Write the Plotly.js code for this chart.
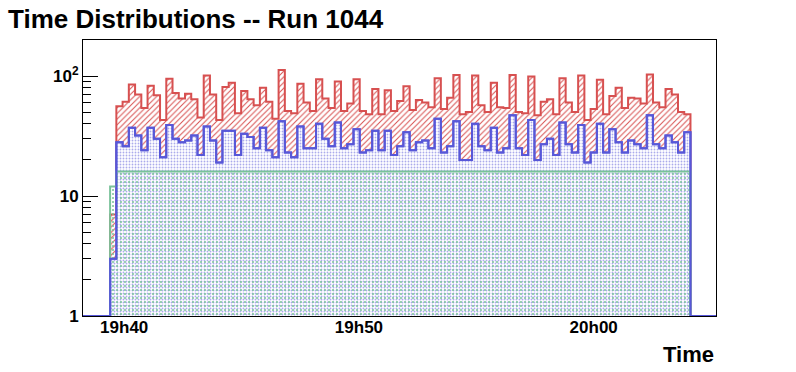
<!DOCTYPE html>
<html>
<head>
<meta charset="utf-8">
<script src="https://cdn.plot.ly/plotly-3.0.1.min.js"></script>
<style>
  html, body { margin: 0; padding: 0; background: #ffffff; }
  #chart { width: 796px; height: 372px; }
</style>
</head>
<body>
<div id="chart"></div>
<script>
// ---- Data ----
// Histogram binning: first bin low edge and bin width (time axis)
const binStartTime = '2024-01-01 19:39:24';
const binWidthSec = 15.95;

// Red histogram contents (93 bins)
const redCounts = [
  7, 56, 61, 85, 70, 54, 83, 69, 43, 95,
  72, 65, 71, 64, 45, 101, 70, 43, 81, 88,
  49, 75, 64, 57, 80, 61, 44, 112, 51, 49,
  86, 60, 51, 94, 65, 54, 90, 51, 59, 94,
  51, 48, 78, 48, 76, 51, 62, 82, 52, 63,
  60, 55, 96, 53, 66, 102, 48, 50, 101, 57,
  50, 88, 55, 54, 102, 50, 49, 99, 47, 61,
  64, 48, 96, 60, 50, 101, 43, 53, 93, 48,
  68, 80, 54, 66, 65, 59, 103, 60, 55, 78,
  70, 50, 48
];

// Blue histogram contents (93 bins)
const blueCounts = [
  3, 28, 26, 37, 32, 24, 37, 30, 21, 39,
  30, 28, 29, 32, 22, 38, 29, 19, 35, 35,
  22, 33, 31, 25, 37, 24, 21, 42, 23, 21,
  38, 25, 25, 40, 30, 26, 41, 25, 27, 36,
  23, 24, 35, 24, 35, 22, 26, 34, 24, 28,
  29, 25, 44, 23, 26, 42, 20, 20, 40, 26,
  24, 37, 23, 25, 47, 25, 22, 43, 20, 27,
  30, 22, 41, 27, 23, 39, 19, 23, 40, 23,
  36, 28, 23, 29, 27, 25, 47, 27, 25, 32,
  28, 23, 34
];

// Green histogram contents (93 bins)
const greenCounts = [
  12, 16, 16, 16, 16, 16, 16, 16, 16, 16,
  16, 16, 16, 16, 16, 16, 16, 16, 16, 16,
  16, 16, 16, 16, 16, 16, 16, 16, 16, 16,
  16, 16, 16, 16, 16, 16, 16, 16, 16, 16,
  16, 16, 16, 16, 16, 16, 16, 16, 16, 16,
  16, 16, 16, 16, 16, 16, 16, 16, 16, 16,
  16, 16, 16, 16, 16, 16, 16, 16, 16, 16,
  16, 16, 16, 16, 16, 16, 16, 16, 16, 16,
  16, 16, 16, 16, 16, 16, 16, 16, 16, 16,
  16, 16, 16
];

// Axis settings / labels
const xRange = ['2024-01-01 19:38:14.7', '2024-01-01 20:05:12.6'];
const xTick0 = '2024-01-01 19:40:00';
const yTickVals = [1, 10, 100];
const yTickText = ['1', '10', '10<sup>2</sup>'];
const titleText = 'Time Distributions -- Run 1044';
const xTitleText = 'Time';

// ---- Build step outlines (ROOT-style histogram drawing) ----
function toMs(s) {
  const [d, t] = s.split(' ');
  const [Y, M, D] = d.split('-').map(Number);
  const [h, m, sec] = t.split(':').map(Number);
  return Date.UTC(Y, M - 1, D, h, m, 0) + sec * 1000;
}
const FLOOR = 1; // empty bins are drawn on the frame bottom (log axis minimum)
const startMs = toMs(binStartTime);
function edge(i) { return startMs + i * binWidthSec * 1000; }
function stepXY(vals) {
  const x = [toMs(xRange[0])], y = [FLOOR];
  vals.forEach((v, i) => { x.push(edge(i)); y.push(v); });
  x.push(edge(vals.length)); y.push(FLOOR);
  x.push(toMs(xRange[1])); y.push(FLOOR);
  return { x, y };
}

const RED = '#d75050';
const BLUE = '#5757d8';
const GREEN = '#79c29a';

const r = stepXY(redCounts), b = stepXY(blueCounts), g = stepXY(greenCounts);

const traces = [
  { x: r.x, y: r.y, type: 'scatter', mode: 'lines',
    line: { shape: 'hv', color: RED, width: 2 },
    fill: 'tozeroy', fillcolor: 'rgba(255,255,255,0)',
    fillpattern: { shape: '/', fgcolor: RED, bgcolor: 'rgba(255,255,255,0)', size: 4, solidity: 0.25, fillmode: 'replace' },
    hoverinfo: 'skip' },
  { x: b.x, y: b.y, type: 'scatter', mode: 'lines',
    line: { shape: 'hv', color: BLUE, width: 2 },
    fill: 'tozeroy', fillcolor: '#ffffff',
    fillpattern: { shape: '.', fgcolor: BLUE, size: 3, solidity: 0.3, fillmode: 'overlay' },
    hoverinfo: 'skip' },
  { x: g.x, y: g.y, type: 'scatter', mode: 'lines',
    line: { shape: 'hv', color: GREEN, width: 2 },
    fill: 'tozeroy', fillcolor: 'rgba(255,255,255,0)',
    fillpattern: { shape: '.', fgcolor: GREEN, bgcolor: 'rgba(255,255,255,0)', size: 4, solidity: 0.2, fillmode: 'replace' },
    hoverinfo: 'skip' },
  { x: b.x, y: b.y, type: 'scatter', mode: 'lines',
    line: { shape: 'hv', color: BLUE, width: 2 },
    hoverinfo: 'skip' }
];

const FONT = 'Liberation Sans, Arial, Helvetica, sans-serif';

const layout = {
  width: 796, height: 372,
  margin: { l: 83, r: 80, t: 40, b: 56, pad: 0 },
  paper_bgcolor: '#ffffff', plot_bgcolor: '#ffffff',
  showlegend: false,
  font: { family: FONT, color: '#000000', size: 17, weight: 'bold' },
  title: {
    text: titleText, xref: 'container', yref: 'container',
    x: 8 / 796, xanchor: 'left', y: 1 - 19 / 372, yanchor: 'middle',
    font: { family: FONT, size: 26, weight: 'bold', color: '#000000' }
  },
  xaxis: {
    type: 'date', range: xRange,
    tick0: xTick0, dtick: 600000, tickformat: '%Hh%M',
    ticks: 'inside', ticklen: 11, tickwidth: 1, tickcolor: '#000000',
    minor: { tick0: xTick0, dtick: 120000, ticks: 'inside', ticklen: 5, tickwidth: 1, tickcolor: '#000000', showgrid: false },
    showgrid: false, zeroline: false,
    showline: true, linecolor: '#000000', linewidth: 1, mirror: true,
    tickfont: { family: FONT, size: 17, weight: 'bold', color: '#000000' },
    ticklabelstandoff: -4,
    layer: 'below traces'
  },
  yaxis: {
    type: 'log', range: [0, 2.3],
    tickmode: 'array', tickvals: yTickVals, ticktext: yTickText,
    ticks: 'inside', ticklen: 15, tickwidth: 1, tickcolor: '#000000',
    minor: { dtick: 'D1', ticks: 'inside', ticklen: 8, tickwidth: 1, tickcolor: '#000000', showgrid: false },
    showgrid: false, zeroline: false,
    showline: true, linecolor: '#000000', linewidth: 1, mirror: true,
    tickfont: { family: FONT, size: 17, weight: 'bold', color: '#000000' },
    ticklabelstandoff: 0,
    layer: 'below traces'
  },
  annotations: [{
    text: xTitleText, xref: 'paper', yref: 'paper',
    x: 1, xanchor: 'right', y: -(354 - 316) / 276, yanchor: 'middle',
    showarrow: false,
    font: { family: FONT, size: 22, weight: 'bold', color: '#000000' }
  }]
};

Plotly.newPlot('chart', traces, layout, { staticPlot: true, displayModeBar: false });
</script>
</body>
</html>
